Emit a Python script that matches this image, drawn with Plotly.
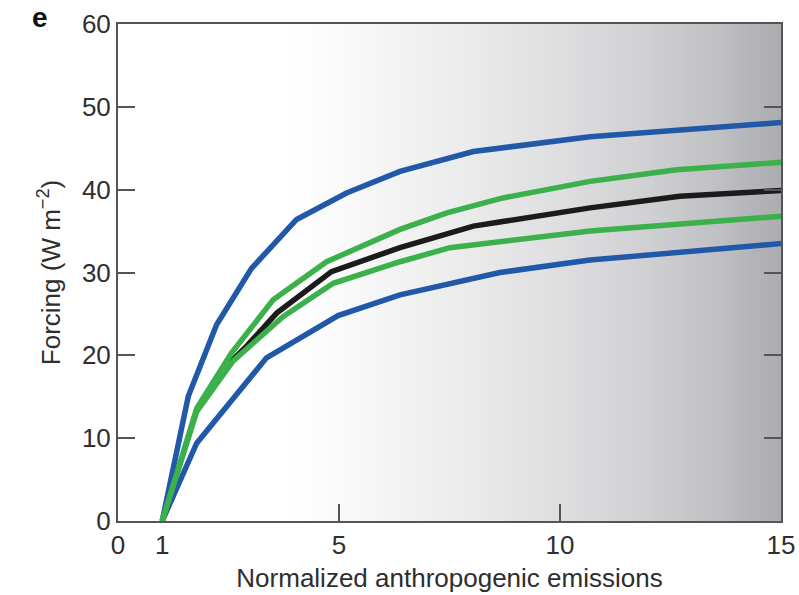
import numpy as np
import plotly.graph_objects as go

# Data
ub_x = [1, 1.59, 2.23, 3.02, 4.04, 5.17, 6.38, 8.04, 10.68, 12.71, 15]
ub_y = [0, 15.05, 23.7, 30.5, 36.4, 39.6, 42.2, 44.6, 46.4, 47.2, 48.1]

ug_x = [1, 1.78, 2.57, 3.51, 4.72, 6.38, 7.44, 8.71, 10.68, 12.64, 15]
ug_y = [0, 13.6, 20.3, 26.7, 31.3, 35.2, 37.2, 39.0, 41.0, 42.4, 43.3]

bk_x = [2.53, 2.91, 3.59, 4.83, 6.38, 8.04, 10.68, 12.71, 14.68, 15]
bk_y = [19.1, 21.1, 25.1, 30.1, 33.0, 35.6, 37.8, 39.2, 39.8, 39.9]

lg_x = [1, 1.78, 2.6, 3.74, 4.87, 6.38, 7.51, 10.68, 15]
lg_y = [0, 13.2, 19.3, 24.7, 28.7, 31.3, 33.0, 35.0, 36.8]

lb_x = [1, 1.78, 3.36, 4.98, 6.38, 8.64, 10.68, 12.71, 15]
lb_y = [0, 9.4, 19.7, 24.8, 27.3, 30.0, 31.5, 32.5, 33.5]

x_ticks = [0, 1, 5, 10, 15]
y_ticks = [0, 10, 20, 30, 40, 50, 60]

# background shading (white -> grey to the right)
bg_stops_x = [0, 3.8, 5, 8, 10, 12, 13.5, 14.3, 15]
bg_stops_v = [0, 0, 0.06, 0.24, 0.38, 0.55, 0.72, 0.86, 0.95]
gx = np.linspace(0, 15, 301)
gz = np.interp(gx, bg_stops_x, bg_stops_v)

BLUE = "#2258a8"
GREEN = "#3cb04a"
BLACK = "#1b1b1b"
AX = "#555555"
TXT = "#2e2e2e"
FONT = "Liberation Sans, Arial, sans-serif"

W, H = 799, 595
ML, MR, MT, MB = 118, 18, 24, 74
PW, PH = W - ML - MR, H - MT - MB

fig = go.Figure()
fig.add_trace(go.Heatmap(
    x=gx, y=[0, 60], z=[gz, gz], zmin=0, zmax=1, zsmooth="best",
    colorscale=[[0, "rgb(255,255,255)"], [1, "rgb(168,169,173)"]],
    showscale=False, hoverinfo="skip"))

def add_line(x, y, color):
    fig.add_trace(go.Scatter(x=x, y=y, mode="lines",
                             line=dict(color=color, width=5.5),
                             showlegend=False, cliponaxis=True))

add_line(lb_x, lb_y, BLUE)
add_line(ub_x, ub_y, BLUE)
add_line(bk_x, bk_y, BLACK)
add_line(lg_x, lg_y, GREEN)
add_line(ug_x, ug_y, GREEN)

fig.update_layout(
    width=W, height=H,
    margin=dict(l=ML, r=MR, t=MT, b=MB, autoexpand=False),
    paper_bgcolor="white", plot_bgcolor="white",
    font=dict(family=FONT, size=26, color=TXT),
    xaxis=dict(range=[0, 15], tickvals=x_ticks, ticktext=[str(v) for v in x_ticks],
               ticks="", showgrid=False, zeroline=False, automargin=False,
               showline=True, linecolor=AX, linewidth=2, mirror=True,
               minor=dict(tickvals=[5, 10], ticks="inside", ticklen=17,
                          tickcolor=AX, tickwidth=2, showgrid=False),
               tickfont=dict(size=26, color=TXT),
               title=dict(text="Normalized anthropogenic emissions",
                          font=dict(size=26, color=TXT), standoff=10)),
    yaxis=dict(range=[0, 60], tickvals=y_ticks, ticks="inside", ticklen=17,
               tickcolor=AX, tickwidth=2, showgrid=False, zeroline=False,
               automargin=False,
               showline=True, linecolor=AX, linewidth=2, mirror="ticks",
               tickfont=dict(size=26, color=TXT),
               title=dict(text="Forcing (W m<sup>−2</sup>)",
                          font=dict(size=26, color=TXT), standoff=14)),
    annotations=[dict(text="<b>e</b>", xref="paper", yref="paper",
                      x=(40 - ML) / PW, y=1 + (MT - 18) / PH,
                      xanchor="center", yanchor="middle",
                      showarrow=False, font=dict(size=28, color="#111111"))],
)

fig.write_html("out.html", config={"displayModeBar": False},
               post_script="document.body.style.margin='0';document.body.style.padding='0';")
